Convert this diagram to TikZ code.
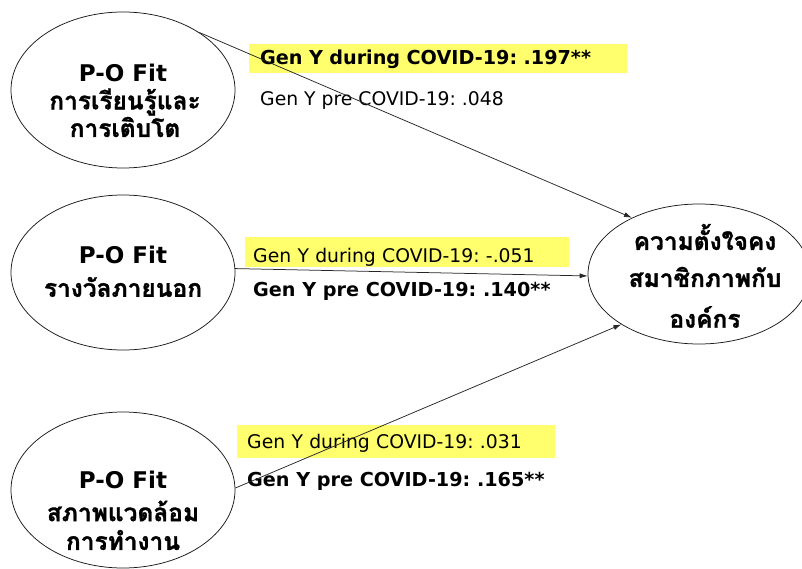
\documentclass[tikz,border=0pt]{standalone}
\usepackage{fontspec}
\setmainfont{DejaVu Sans}
\newfontfamily\thaifont[Script=Thai,BoldFeatures={FakeBold=1.2}]{Loma}
\usetikzlibrary{arrows.meta,shapes.geometric}
\frenchspacing
\definecolor{hl}{RGB}{255,255,110}
\tikzset{
  ell/.style={draw=black!90, line width=0.75pt, fill=white, ellipse, minimum width=224pt, minimum height=156pt, inner sep=0pt},
  ttl/.style={inner sep=0pt, font=\fontsize{23}{23}\selectfont\bfseries},
  thl/.style={inner sep=0pt, font=\thaifont\fontsize{24.5}{24.5}\selectfont\bfseries},
  ybox/.style={fill=hl, anchor=north west, align=left, inner ysep=0pt, font=\fontsize{18.8}{18.8}\selectfont},
  lab/.style={anchor=base west, inner sep=0pt, font=\fontsize{18.8}{18.8}\selectfont},
  bfl/.style={font=\fontsize{19.2}{19.2}\selectfont\bfseries},
  arr/.style={draw=black!85, line width=0.75pt, -{Latex[length=8pt,width=5pt]}}
}
\begin{document}
\begin{tikzpicture}[x=1pt,y=-1pt]
\useasboundingbox (0,0) rectangle (802,569);
% ellipses
\node[ell] (e1) at (123,90) {};
\node[ell, minimum height=155pt] (e2) at (123,272.5) {};
\node[ell] (e3) at (123,490) {};
\node[ell, minimum width=222pt, minimum height=140pt] (t) at (699,274) {};
% ellipse texts
\node[ttl] (e1a) at (123,73) {P-O Fit};
\node[thl] (e1b) at (125,102) {การเรียนรู้และ};
\node[thl] (e1c) at (125,127) {การเติบโต};
\node[ttl] (e2a) at (123,255) {P-O Fit};
\node[thl] (e2b) at (123,287) {รางวัลภายนอก};
\node[ttl] (e3a) at (123,480) {P-O Fit};
\node[thl] (e3b) at (123,511) {สภาพแวดล้อม};
\node[thl] (e3c) at (123,540) {การทำงาน};
\node[thl] (t1) at (705,237) {ความตั้งใจคง};
\node[thl] (t2) at (705,277) {สมาชิกภาพกับ};
\node[thl] (t3) at (705,317) {องค์กร};
% highlighted labels
\node[ybox, bfl, inner xsep=11pt, text width=356pt, text height=20pt, text depth=9pt] (l1a) at (249,44) {Gen Y during COVID-19: .197**};
\node[ybox, inner xsep=8pt, text width=308pt, text height=25pt, text depth=5pt] (l2a) at (245,237) {Gen Y during COVID-19: -.051};
\node[ybox, inner xsep=10pt, text width=298pt, text height=23pt, text depth=10pt] (l3a) at (237,425) {Gen Y during COVID-19: .031};
% plain labels
\node[lab] (l1b) at (260,106) {Gen Y pre COVID-19: .048};
\node[lab, bfl] (l2b) at (253,296) {Gen Y pre COVID-19: .140**};
\node[lab, bfl] (l3b) at (247,486) {Gen Y pre COVID-19: .165**};
% arrows
\draw[arr] (e1.37) -- (t.140);
\draw[arr] (e2.2) -- (t.181);
\draw[arr] (e3.1) -- (t.213);
\end{tikzpicture}
\end{document}
